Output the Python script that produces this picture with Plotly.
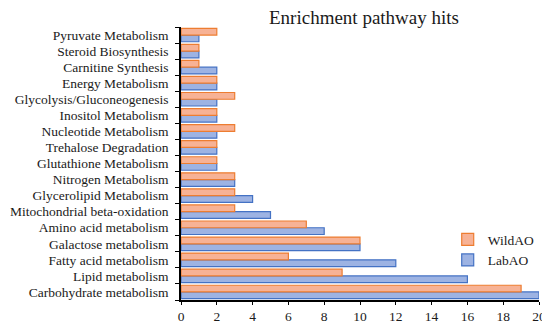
import plotly.graph_objects as go

categories = ["Carbohydrate metabolism", "Lipid metabolism", "Fatty acid metabolism",
              "Galactose metabolism", "Amino acid metabolism", "Mitochondrial beta-oxidation",
              "Glycerolipid Metabolism", "Nitrogen Metabolism", "Glutathione Metabolism",
              "Trehalose Degradation", "Nucleotide Metabolism", "Inositol Metabolism",
              "Glycolysis/Gluconeogenesis", "Energy Metabolism", "Carnitine Synthesis",
              "Steroid Biosynthesis", "Pyruvate Metabolism"]
wild_ao = [19, 9, 6, 10, 7, 3, 3, 3, 2, 2, 3, 2, 3, 2, 1, 1, 2]
lab_ao = [20, 16, 12, 10, 8, 5, 4, 3, 2, 2, 2, 2, 2, 2, 2, 1, 1]
x_ticks = [0, 2, 4, 6, 8, 10, 12, 14, 16, 18, 20]

FONT = "Liberation Serif"

fig = go.Figure()
fig.add_trace(go.Bar(y=categories, x=lab_ao, name="LabAO", orientation="h",
                     marker=dict(color="#9DB3E3", line=dict(color="#4472C4", width=1.2))))
fig.add_trace(go.Bar(y=categories, x=wild_ao, name="WildAO", orientation="h",
                     marker=dict(color="#F7B295", line=dict(color="#ED7D31", width=1.2))))

fig.update_layout(
    width=550, height=322,
    margin=dict(l=173, r=19, t=19, b=30, autoexpand=False),
    paper_bgcolor="white", plot_bgcolor="white",
    barmode="group", bargap=0.16, bargroupgap=0.0,
    font=dict(family=FONT, size=14, color="#1a1a1a"),
    showlegend=True,
    legend=dict(x=0.745, y=0.278, xanchor="left", yanchor="top", traceorder="reversed",
                font=dict(family=FONT, size=13.5), bgcolor="rgba(0,0,0,0)",
                itemwidth=30, tracegroupgap=0),
    annotations=[dict(text="Enrichment pathway hits", x=0.511, y=1.033, xref="paper", yref="paper",
                      xanchor="center", yanchor="middle", showarrow=False,
                      font=dict(family=FONT, size=19, color="#1a1a1a"))],
)
fig.update_xaxes(range=[0, 20], tickvals=x_ticks, showline=True, linecolor="black", linewidth=1.5,
                 ticks="outside", ticklen=3, tickcolor="black", showgrid=False, zeroline=False,
                 tickfont=dict(size=13.5))
fig.update_yaxes(categoryorder="array", categoryarray=categories, range=[-0.5, 16.5],
                 tickmode="array", tickvals=categories, ticktext=categories,
                 showline=True, linecolor="black", linewidth=1.5, ticks="outside", ticklen=4,
                 tickson="boundaries", tickcolor="black", showgrid=False, zeroline=False,
                 ticklabelstandoff=8, tickfont=dict(size=13.5))

fig.write_html("out.html")
